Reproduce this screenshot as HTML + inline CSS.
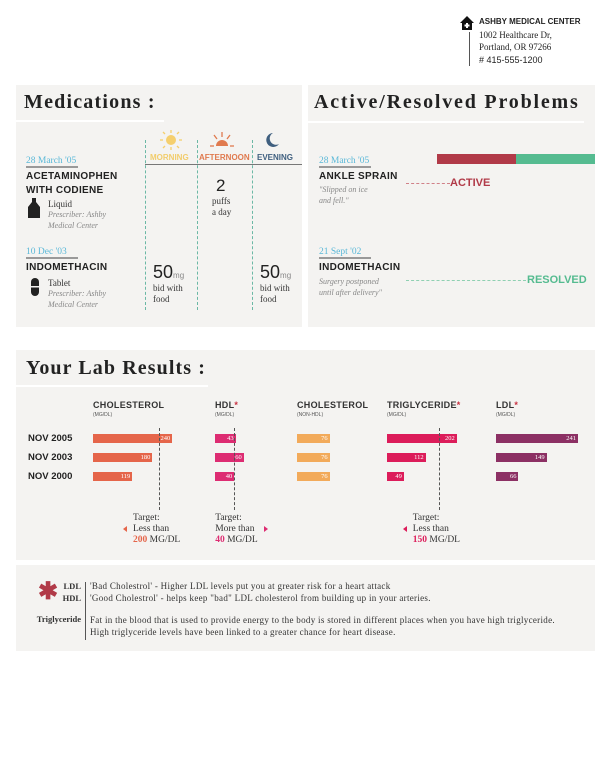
<!DOCTYPE html>
<html><head><meta charset="utf-8">
<style>
*{margin:0;padding:0;box-sizing:border-box}
body{width:611px;height:783px;background:#fff;position:relative;font-family:"Liberation Sans",sans-serif;color:#222;overflow:hidden}
.a{position:absolute;white-space:nowrap}
.panel{position:absolute;background:#f4f3f1}
.title{font-family:"Liberation Serif",serif;font-weight:bold;font-size:20px;color:#222}
.uline{position:absolute;height:2px;background:#fff}
.date{font-family:"Liberation Serif",serif;font-size:9.5px;color:#5ab8d8;border-bottom:2px solid #999;padding-bottom:0px;width:52px}
.name{font-size:10px;font-weight:bold;color:#222;letter-spacing:0.3px}
.ser{font-family:"Liberation Serif",serif;font-size:9px;color:#333}
.it{font-family:"Liberation Serif",serif;font-style:italic;font-size:8px;color:#888;line-height:11px}
.vd{position:absolute;width:0;border-left:1px dashed #6bb8a5}
.colh{font-size:9px;font-weight:bold;color:#333;letter-spacing:0.3px}
.unit{font-size:5px;color:#555}
.row{font-size:9.5px;font-weight:bold;color:#222}
.bar{position:absolute;height:9px}
.bv{position:absolute;font-family:"Liberation Serif",serif;font-size:6.5px;color:#fff;top:1px;text-align:right}
.tgt{font-family:"Liberation Serif",serif;font-size:9.5px;color:#333;line-height:11px}
.ft{font-family:"Liberation Serif",serif;font-size:9px;letter-spacing:0.3px;line-height:12px;color:#333}
.fl{font-family:"Liberation Serif",serif;font-size:8.5px;font-weight:bold;color:#333;text-align:right;width:60px}
</style></head><body>

<!-- header -->
<div>
<svg class="a" style="left:460px;top:16px" width="14" height="14"><polygon points="7,0 14,7 12,7 12,14 2,14 2,7 0,7" fill="#111"/><rect x="6" y="7" width="2" height="5" fill="#fff"/><rect x="4.5" y="8.5" width="5" height="2" fill="#fff"/></svg>
<div class="a" style="left:469px;top:32px;width:1px;height:34px;background:#555"></div>
<div class="a" style="left:479px;top:17px;font-size:8px;font-weight:bold;color:#222">ASHBY MEDICAL CENTER</div>
<div class="a" style="left:479px;top:29px;font-family:'Liberation Serif',serif;font-size:9px;line-height:12px;color:#222">1002 Healthcare Dr,<br>Portland, OR 97266</div>
<div class="a" style="left:479px;top:55px;font-size:9px;color:#222"># 415-555-1200</div>
</div>

<!-- Medications -->
<div class="panel" style="left:16px;top:85px;width:286px;height:242px"></div>
<div class="a title" style="left:24px;top:91px;letter-spacing:1.2px">Medications :</div>
<div class="uline" style="left:16px;top:120px;width:148px"></div>

<svg class="a" style="left:160px;top:130px" width="22" height="20"><circle cx="11" cy="10" r="5" fill="#f5cf6d"/><g stroke="#f5cf6d" stroke-width="1.3"><line x1="11" y1="0" x2="11" y2="3"/><line x1="11" y1="17" x2="11" y2="20"/><line x1="0" y1="10" x2="3" y2="10"/><line x1="19" y1="10" x2="22" y2="10"/><line x1="3" y1="2" x2="5" y2="4"/><line x1="19" y1="2" x2="17" y2="4"/><line x1="3" y1="18" x2="5" y2="16"/><line x1="19" y1="18" x2="17" y2="16"/></g></svg>
<svg class="a" style="left:210px;top:132px" width="24" height="16"><path d="M6,14 A6,6 0 0 1 18,14 Z" fill="#e07a4f"/><g stroke="#e07a4f" stroke-width="1.3"><line x1="12" y1="0" x2="12" y2="5"/><line x1="4" y1="3" x2="7" y2="7"/><line x1="20" y1="3" x2="17" y2="7"/><line x1="0" y1="14" x2="4" y2="14"/><line x1="20" y1="14" x2="24" y2="14"/></g></svg>
<svg class="a" style="left:265px;top:132px" width="14" height="16"><path d="M8,1 A7,7 0 1 0 14,12 A6,6 0 0 1 8,1 Z" fill="#3f5f7f"/></svg>
<div class="a" style="left:150px;top:153px;font-size:8px;font-weight:bold;color:#f2cd6c">MORNING</div>
<div class="a" style="left:199px;top:153px;font-size:8px;font-weight:bold;color:#e07a4f">AFTERNOON</div>
<div class="a" style="left:257px;top:153px;font-size:8px;font-weight:bold;color:#3f5f7f">EVENING</div>
<div class="a" style="left:145px;top:164px;width:157px;height:1px;background:#777"></div>
<div class="vd" style="left:145px;top:140px;height:170px"></div>
<div class="vd" style="left:197px;top:140px;height:170px"></div>
<div class="vd" style="left:252px;top:140px;height:170px"></div>

<div class="a date" style="left:26px;top:156px">28 March '05</div>
<div class="a name" style="left:26px;top:170px;line-height:14px">ACETAMINOPHEN<br>WITH CODIENE</div>
<svg class="a" style="left:28px;top:198px" width="12" height="20"><path d="M4,0 H8 V4 L12,9 V20 H0 V9 L4,4 Z" fill="#222"/></svg>
<div class="a ser" style="left:48px;top:199px">Liquid</div>
<div class="a it" style="left:48px;top:209px">Prescriber: Ashby<br>Medical Center</div>
<div class="a" style="left:216px;top:176px;font-size:17px;color:#222">2</div>
<div class="a ser" style="left:212px;top:196px;line-height:11px">puffs<br>a day</div>

<div class="a date" style="left:26px;top:247px">10 Dec '03</div>
<div class="a name" style="left:26px;top:262px">INDOMETHACIN</div>
<svg class="a" style="left:31px;top:278px" width="8" height="18"><rect width="8" height="18" rx="4" fill="#222"/><rect y="8" width="8" height="1.5" fill="#f4f3f1"/></svg>
<div class="a ser" style="left:48px;top:278px">Tablet</div>
<div class="a it" style="left:48px;top:288px">Prescriber: Ashby<br>Medical Center</div>
<div class="a" style="left:153px;top:262px;font-size:18px;color:#222">50<span style="font-size:8px;color:#888">mg</span></div>
<div class="a ser" style="left:153px;top:283px;line-height:11px">bid with<br>food</div>
<div class="a" style="left:260px;top:262px;font-size:18px;color:#222">50<span style="font-size:8px;color:#888">mg</span></div>
<div class="a ser" style="left:260px;top:283px;line-height:11px">bid with<br>food</div>

<!-- Problems -->
<div class="panel" style="left:308px;top:85px;width:287px;height:242px"></div>
<div class="a title" style="left:314px;top:91px;letter-spacing:1.8px">Active/Resolved Problems</div>
<div class="uline" style="left:308px;top:121px;width:276px"></div>
<div class="a" style="left:437px;top:154px;width:79px;height:10px;background:#b13a48"></div>
<div class="a" style="left:516px;top:154px;width:79px;height:10px;background:#55bb90"></div>
<div class="a date" style="left:319px;top:156px">28 March '05</div>
<div class="a name" style="left:319px;top:171px">ANKLE SPRAIN</div>
<div class="a it" style="left:319px;top:184px">"Slipped on ice<br>and fell."</div>
<div class="a" style="left:406px;top:183px;width:44px;border-top:1px dashed #d08088"></div>
<div class="a" style="left:450px;top:177px;font-size:11px;font-weight:bold;color:#b13a48">ACTIVE</div>
<div class="a date" style="left:319px;top:247px">21 Sept '02</div>
<div class="a name" style="left:319px;top:262px">INDOMETHACIN</div>
<div class="a it" style="left:319px;top:276px">Surgery postponed<br>until after delivery"</div>
<div class="a" style="left:406px;top:280px;width:120px;border-top:1px dashed #8fd0b2"></div>
<div class="a" style="left:527px;top:274px;font-size:11px;font-weight:bold;color:#55bb90">RESOLVED</div>

<!-- Lab results -->
<div class="panel" style="left:16px;top:350px;width:579px;height:210px"></div>
<div class="a title" style="left:26px;top:357px;letter-spacing:1.1px">Your Lab Results :</div>
<div class="uline" style="left:16px;top:385px;width:192px"></div>
<div class="a" style="left:16px;top:560px;width:579px;height:1px;background:#fff"></div>
<div id="lab"></div>

<!-- footer -->
<div class="panel" style="left:16px;top:565px;width:579px;height:86px"></div>
<div class="a" style="left:38px;top:580px;font-size:24px;font-weight:bold;color:#b13a48;line-height:24px">✱</div>
<div class="a" style="left:85px;top:582px;width:1px;height:58px;background:#555"></div>
<div class="a fl" style="left:21px;top:581px">LDL</div>
<div class="a fl" style="left:21px;top:593px">HDL</div>
<div class="a fl" style="left:21px;top:614px">Triglyceride</div>
<div class="a ft" style="left:90px;top:580px">'Bad Cholestrol' - Higher LDL levels put you at greater risk for a heart attack<br>'Good Cholestrol' - helps keep "bad" LDL cholesterol from building up in your arteries.</div>
<div class="a ft" style="left:90px;top:614px">Fat in the blood that is used to provide energy to the body is stored in different places when you have high triglyceride.<br>High triglyceride levels have been linked to a greater chance for heart disease.</div>

<script>
const dates = ["NOV 2005","NOV 2003","NOV 2000"];
const tests = ["CHOLESTEROL","HDL","CHOLESTEROL","TRIGLYCERIDE","LDL"];
const units = ["(MG/DL)","(MG/DL)","(NON-HDL)","(MG/DL)","(MG/DL)"];
const cholesterol = [240,180,119];
const hdl = [43,60,40];
const nonHdl = [76,76,76];
const triglyceride = [202,112,49];
const ldl = [241,149,66];
const targets = [200,40,null,150,null];
const series = [cholesterol,hdl,nonHdl,triglyceride,ldl];
const colX = [93,215,297,387,496];
const colors = ["#e5654a","#dd2c72","#f2aa5a","#dc1c5a","#8c3064"];
const scales = [0.33,0.48,0.43,0.345,0.34];
const rowY = [434,453,472];
const lab = document.getElementById('lab');
function mk(cls, css, html){const d=document.createElement('div');d.className='a '+cls;d.style.cssText=css;if(html!=null)d.innerHTML=html;lab.appendChild(d);return d;}
dates.forEach((d,i)=>{
  const e=mk('row',`left:28px;top:${rowY[i]-1}px`,d);
  
  
});
const ast=[false,true,false,true,true];
tests.forEach((t,c)=>{
  const h=mk('colh',`left:${colX[c]}px;top:400px`,t+(ast[c]?'<span style="color:#c83040">*</span>':''));
  
  
  mk('unit',`left:${colX[c]}px;top:412px`,units[c]);
  series[c].forEach((v,i)=>{
    const w=v*scales[c];
    const b=mk('bar',`left:${colX[c]}px;top:${rowY[i]}px;width:${w}px;background:${colors[c]}`);
    
    
    const lbl=mk('bv',`left:${colX[c]}px;top:${rowY[i]+1}px;width:${w-2}px`,String(v));
    
    
  });
  if(targets[c]!=null){
    const x=colX[c]+targets[c]*scales[c];
    const l=mk('',`left:${x}px;top:428px;height:82px;width:0;border-left:1px dashed #555`);
    
    
    const more=c===1;
    const col=colors[c];
    const tx=more?x-19:x-26;
    const txt=mk('tgt',`left:${tx}px;top:513px`,`Target:<br>${more?'More than':'Less than'}<br><span style="color:${col};font-weight:bold">${targets[c]}</span> MG/DL`);
    
    
    const tri=mk('',more?`left:${tx+49}px;top:526px;width:0;height:0;border-top:3.5px solid transparent;border-bottom:3.5px solid transparent;border-left:4px solid ${col}`:`left:${tx-10}px;top:526px;width:0;height:0;border-top:3.5px solid transparent;border-bottom:3.5px solid transparent;border-right:4px solid ${col}`);
    
    
  }
});
</script>
</body></html>
